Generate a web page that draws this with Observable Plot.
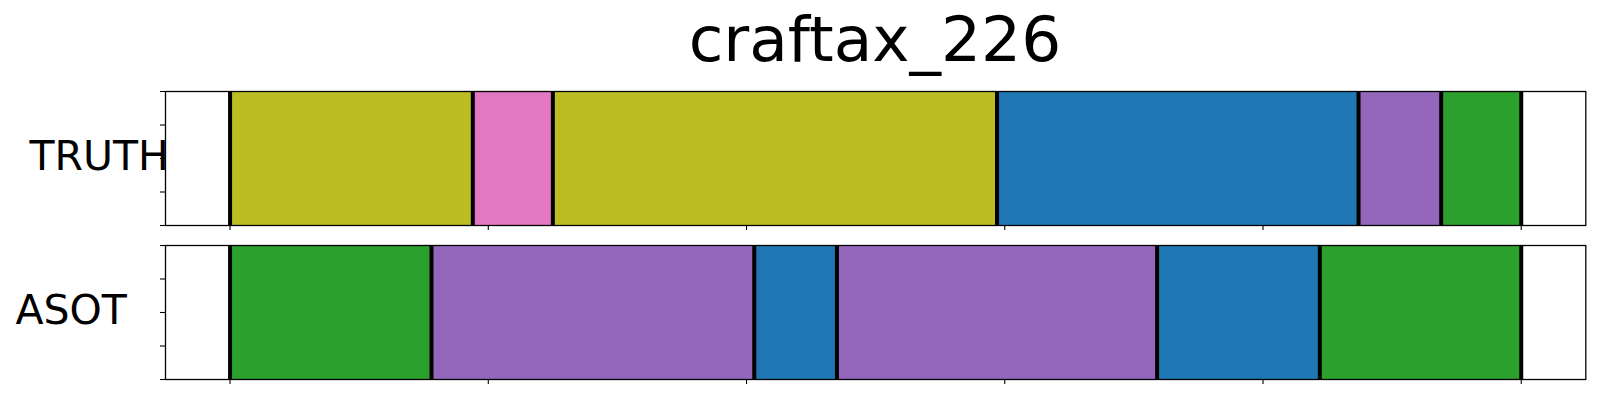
<!DOCTYPE html>
<html>
<head>
<meta charset="utf-8">
<script src="https://cdn.jsdelivr.net/npm/d3@7"></script>
<script src="https://cdn.jsdelivr.net/npm/@observablehq/plot@0.6"></script>
<style>
  html, body { margin: 0; padding: 0; background: #fff; }
  #wrap { width: 1600px; height: 400px; position: relative; font-family: "DejaVu Sans", sans-serif; }
  #title { position: relative; height: 80px; margin-left: 165px; width: 1420px; text-align: center;
           font-size: 63px; line-height: 80px; color: #000; white-space: nowrap; }
</style>
</head>
<body>
<div id="wrap">
  <div id="title">craftax_226</div>
  <div id="chart"></div>
</div>
<script>
// Rows (panels)
const rows = ["TRUTH", "ASOT"];
// Segment boundaries (frame indices) and action ids per row
const truthStarts = [0, 94, 125, 297, 437, 469];
const truthEnds   = [94, 125, 297, 437, 469, 500];
const truthActions = [8, 6, 8, 0, 4, 2];
const asotStarts = [0, 78, 203, 235, 359, 422];
const asotEnds   = [78, 203, 235, 359, 422, 500];
const asotActions = [2, 4, 0, 4, 0, 2];
const xTicks = [0, 100, 200, 300, 400, 500];
const yTicks = [0, 0.25, 0.5, 0.75, 1];

const segments = [
  ...truthStarts.map((s, i) => ({row: "TRUTH", start: s, end: truthEnds[i], action: truthActions[i]})),
  ...asotStarts.map((s, i) => ({row: "ASOT", start: s, end: asotEnds[i], action: asotActions[i]}))
];
const boundaries = [
  ...truthStarts.map(b => ({row: "TRUTH", b})), {row: "TRUTH", b: truthEnds[truthEnds.length - 1]},
  ...asotStarts.map(b => ({row: "ASOT", b})), {row: "ASOT", b: asotEnds[asotEnds.length - 1]}
];
const xMax = truthEnds[truthEnds.length - 1];

const chart = Plot.plot({
  width: 1600,
  height: 320,
  marginTop: 10.3,
  marginBottom: 19.7,
  marginLeft: 165,
  marginRight: 14.7,
  style: {fontFamily: "DejaVu Sans", background: "white"},
  x: {domain: [-0.05 * xMax, 1.05 * xMax]},
  y: {domain: [0, 1]},
  fy: {domain: rows, paddingInner: 0.129, paddingOuter: 0, axis: null, label: null},
  color: {type: "ordinal", domain: d3.range(10), range: d3.schemeCategory10},
  marks: [
    Plot.rect(segments, {x1: "start", x2: "end", y1: () => 0, y2: () => 1, fy: "row", fill: "action"}),
    Plot.ruleX(boundaries, {x: "b", y1: () => 0, y2: () => 1, fy: "row", stroke: "black", strokeWidth: 4}),
    Plot.frame({stroke: "black", strokeWidth: 1.3}),
    Plot.axisX(xTicks, {tickFormat: () => "", tickSize: 5, strokeWidth: 1.1, label: null, facetAnchor: null}),
    Plot.axisY(yTicks, {tickFormat: () => "", tickSize: 5, strokeWidth: 1.1, label: null, facetAnchor: null}),
    Plot.text(["TRUTH"], {fy: d => d, text: d => d, frameAnchor: "left", textAnchor: "start", dx: -136, dy: -1.5, fontSize: 41, fill: "black"}),
    Plot.text(["ASOT"], {fy: d => d, text: d => d, frameAnchor: "left", textAnchor: "start", dx: -150, dy: -1.5, fontSize: 41, fill: "black"})
  ]
});
document.getElementById("chart").appendChild(chart);
</script>
</body>
</html>
